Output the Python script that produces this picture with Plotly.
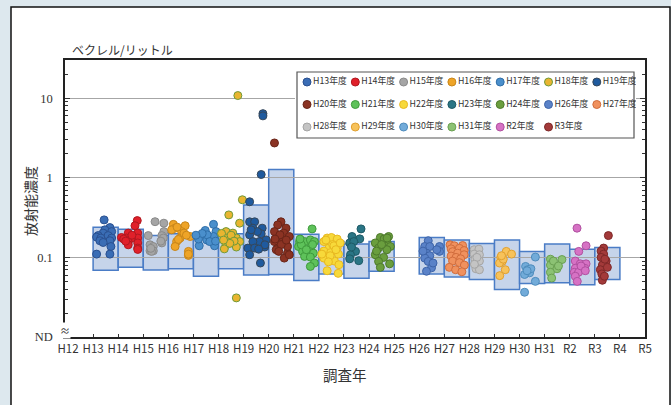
import plotly.graph_objects as go

# ---------------- data ----------------
tick_labels = ["H12", "H13", "H14", "H15", "H16", "H17", "H18", "H19", "H20", "H21", "H22",
               "H23", "H24", "H25", "H26", "H27", "H28", "H29", "H30", "H31", "R2", "R3", "R4", "R5"]

series_years = ["H13", "H14", "H15", "H16", "H17", "H18", "H19", "H20", "H21", "H22", "H23", "H24",
                "H26", "H27", "H28", "H29", "H30", "H31", "R2", "R3"]
series_names = [y + "年度" for y in series_years]

# box (range band) per survey year, Bq/L
box_low = [0.0688, 0.075, 0.0696, 0.0722, 0.0579, 0.0722, 0.0603, 0.0608, 0.0511, 0.062, 0.0546, 0.0668,
           0.062, 0.0569, 0.0526, 0.0395, 0.0469, 0.0479, 0.0452, 0.0526]
box_high = [0.240, 0.226, 0.188, 0.198, 0.180, 0.198, 0.456, 1.27, 0.196, 0.158, 0.147, 0.158,
            0.178, 0.166, 0.150, 0.165, 0.119, 0.147, 0.127, 0.133]

# per-sample position inside the year band (0..1) and concentration (Bq/L)
h13_pos = [0.44, 0.67, 0.47, 0.74, 0.40, 0.20, 0.60, 0.14, 0.74, 0.31, 0.27, 0.67, 0.40, 0.71, 0.14, 0.67]
h13_val = [0.296, 0.237, 0.222, 0.211, 0.202, 0.188, 0.188, 0.18, 0.175, 0.175, 0.162, 0.162, 0.154, 0.137, 0.11, 0.11]
h14_pos = [0.76, 0.67, 0.40, 0.78, 0.13, 0.33, 0.78, 0.53, 0.40, 0.78, 0.40, 0.78, 0.22, 0.55, 0.78, 0.30]
h14_val = [0.29, 0.25, 0.202, 0.202, 0.178, 0.175, 0.175, 0.175, 0.156, 0.152, 0.144, 0.131, 0.17, 0.19, 0.126, 0.16]
h15_pos = [0.47, 0.82, 0.82, 0.20, 0.74, 0.80, 0.27, 0.40, 0.74, 0.27, 0.40, 0.70, 0.33, 0.30]
h15_val = [0.281, 0.269, 0.211, 0.188, 0.188, 0.175, 0.144, 0.137, 0.152, 0.121, 0.121, 0.16, 0.119, 0.13]
h16_pos = [0.20, 0.27, 0.67, 0.53, 0.87, 0.47, 0.33, 0.27, 0.80, 0.80, 0.13, 0.62, 0.72, 0.40, 0.80, 0.35]
h16_val = [0.26, 0.233, 0.25, 0.211, 0.183, 0.175, 0.158, 0.137, 0.119, 0.106, 0.222, 0.202, 0.19, 0.168, 0.11, 0.24]
h17_pos = [0.80, 0.47, 0.20, 0.90, 0.53, 0.80, 0.23, 0.84, 0.20, 0.55, 0.65, 0.35, 0.88, 0.10]
h17_val = [0.26, 0.218, 0.183, 0.211, 0.166, 0.183, 0.14, 0.14, 0.17, 0.192, 0.158, 0.2, 0.16, 0.19]
h18_pos = [0.77, 0.95, 0.71, 0.41, 0.84, 0.30, 0.57, 0.30, 0.71, 0.84, 0.30, 0.71, 0.23, 0.50, 0.62, 0.12, 0.45, 0.20]
h18_val = [10.8, 0.53, 0.031, 0.342, 0.269, 0.211, 0.202, 0.175, 0.175, 0.158, 0.144, 0.135, 0.128, 0.19, 0.16, 0.2, 0.15, 0.165]
h19_pos = [0.77, 0.77, 0.70, 0.24, 0.24, 0.44, 0.74, 0.37, 0.24, 0.70, 0.90, 0.63, 0.37, 0.17, 0.44, 0.84, 0.24, 0.67, 0.55, 0.85, 0.30, 0.60]
h19_val = [6.4, 6.0, 1.1, 0.5, 0.28, 0.28, 0.233, 0.233, 0.192, 0.198, 0.166, 0.158, 0.158, 0.131, 0.131, 0.135, 0.108, 0.085, 0.211, 0.144, 0.222, 0.127]
h20_pos = [0.23, 0.49, 0.36, 0.69, 0.23, 0.60, 0.82, 0.23, 0.56, 0.36, 0.75, 0.62, 0.45, 0.75, 0.30, 0.82, 0.50, 0.25, 0.70, 0.40]
h20_val = [2.74, 0.28, 0.256, 0.233, 0.211, 0.202, 0.183, 0.158, 0.158, 0.131, 0.113, 0.098, 0.192, 0.137, 0.125, 0.108, 0.145, 0.17, 0.165, 0.119]
h21_pos = [0.73, 0.23, 0.43, 0.66, 0.82, 0.19, 0.66, 0.35, 0.78, 0.43, 0.66, 0.82, 0.66, 0.30, 0.50, 0.25, 0.75]
h21_val = [0.228, 0.158, 0.158, 0.166, 0.158, 0.137, 0.131, 0.119, 0.113, 0.103, 0.101, 0.085, 0.077, 0.144, 0.125, 0.17, 0.145]
h22_pos = [0.33, 0.50, 0.73, 0.20, 0.40, 0.73, 0.20, 0.47, 0.78, 0.20, 0.62, 0.80, 0.33, 0.77, 0.55, 0.60, 0.28, 0.85, 0.45, 0.12, 0.68, 0.38]
h22_val = [0.175, 0.178, 0.17, 0.158, 0.131, 0.131, 0.12, 0.115, 0.11, 0.098, 0.09, 0.081, 0.068, 0.063, 0.145, 0.14, 0.165, 0.152, 0.105, 0.11, 0.125, 0.088]
h23_pos = [0.68, 0.32, 0.63, 0.23, 0.39, 0.46, 0.26, 0.23, 0.59, 0.30]
h23_val = [0.228, 0.183, 0.171, 0.152, 0.158, 0.119, 0.108, 0.096, 0.091, 0.135]
h24_pos = [0.45, 0.78, 0.25, 0.71, 0.85, 0.38, 0.25, 0.71, 0.58, 0.38, 0.45, 0.82, 0.60, 0.30, 0.72, 0.50]
h24_val = [0.178, 0.183, 0.152, 0.158, 0.137, 0.131, 0.108, 0.125, 0.1, 0.089, 0.075, 0.083, 0.17, 0.12, 0.175, 0.145]
h26_pos = [0.36, 0.22, 0.42, 0.81, 0.81, 0.29, 0.42, 0.22, 0.36, 0.49, 0.29, 0.70, 0.15, 0.55]
h26_val = [0.162, 0.137, 0.137, 0.137, 0.119, 0.113, 0.105, 0.098, 0.089, 0.074, 0.067, 0.125, 0.12, 0.085]
h27_pos = [0.23, 0.40, 0.73, 0.60, 0.27, 0.79, 0.33, 0.53, 0.79, 0.27, 0.47, 0.65, 0.33, 0.60, 0.80, 0.20, 0.45, 0.70]
h27_val = [0.144, 0.14, 0.141, 0.13, 0.128, 0.122, 0.118, 0.113, 0.108, 0.104, 0.1, 0.096, 0.09, 0.086, 0.08, 0.075, 0.07, 0.066]
h28_pos = [0.19, 0.38, 0.19, 0.40, 0.22, 0.40, 0.26, 0.40, 0.30, 0.20]
h28_val = [0.125, 0.127, 0.11, 0.108, 0.095, 0.09, 0.072, 0.07, 0.1, 0.082]
h29_pos = [0.47, 0.68, 0.25, 0.31, 0.20, 0.43, 0.21, 0.35, 0.28]
h29_val = [0.119, 0.11, 0.1, 0.089, 0.085, 0.07, 0.059, 0.095, 0.105]
h30_pos = [0.63, 0.24, 0.40, 0.20, 0.32, 0.63, 0.20, 0.45, 0.30]
h30_val = [0.101, 0.077, 0.064, 0.061, 0.07, 0.05, 0.0365, 0.072, 0.068]
h31_pos = [0.23, 0.69, 0.30, 0.23, 0.49, 0.23, 0.28, 0.35, 0.55]
h31_val = [0.095, 0.094, 0.085, 0.08, 0.072, 0.065, 0.055, 0.09, 0.078]
r2_pos = [0.29, 0.65, 0.36, 0.22, 0.42, 0.65, 0.22, 0.60, 0.18, 0.35, 0.22, 0.30, 0.45, 0.62]
r2_val = [0.233, 0.14, 0.119, 0.09, 0.083, 0.083, 0.073, 0.073, 0.065, 0.065, 0.058, 0.05, 0.078, 0.068]
r3_pos = [0.54, 0.35, 0.25, 0.35, 0.25, 0.45, 0.30, 0.22, 0.30, 0.40, 0.50, 0.28, 0.38]
r3_val = [0.188, 0.131, 0.12, 0.11, 0.1, 0.09, 0.08, 0.07, 0.0516, 0.095, 0.075, 0.062, 0.058]

series_pos = [h13_pos, h14_pos, h15_pos, h16_pos, h17_pos, h18_pos, h19_pos, h20_pos, h21_pos, h22_pos,
              h23_pos, h24_pos, h26_pos, h27_pos, h28_pos, h29_pos, h30_pos, h31_pos, r2_pos, r3_pos]
series_val = [h13_val, h14_val, h15_val, h16_val, h17_val, h18_val, h19_val, h20_val, h21_val, h22_val,
              h23_val, h24_val, h26_val, h27_val, h28_val, h29_val, h30_val, h31_val, r2_val, r3_val]

# ---------------- style ----------------
fill_colors = ["#3a6db5", "#e0202a", "#a5a5a5", "#eea427", "#4a8fcc", "#e9b530", "#1f5a9e", "#8b3323",
               "#5ec25a", "#f7d93a", "#2a7585", "#6a9e3e", "#5a82c8", "#f0915e", "#c4c4c4", "#f7c25a",
               "#72abd9", "#8cc274", "#d672c4", "#a33a3a"]
line_colors = ["#2a5090", "#b01820", "#8a8a8a", "#c8861a", "#2f6ea8", "#6f9a3a", "#35475a", "#6a2518",
               "#3f9a3c", "#e8b820", "#1e5a66", "#4e7a2c", "#3e64a8", "#d06c3c", "#a5a5a5", "#e0a030",
               "#4f8cbc", "#6aa052", "#b050a0", "#7e2828"]

TXT = "#333333"
fig = go.Figure()

# range boxes
for yr, lo, hi in zip(series_years, box_low, box_high):
    i = tick_labels.index(yr)
    fig.add_shape(type="rect", xref="x", yref="y", x0=i, x1=i + 1, y0=lo, y1=hi,
                  layer="below", fillcolor="#c6d4ea", line=dict(color="#4a7cc6", width=1.5))

# sample dots
for name, yr, pos, val, fc, lc in zip(series_names, series_years, series_pos, series_val,
                                      fill_colors, line_colors):
    i = tick_labels.index(yr)
    fig.add_trace(go.Scatter(
        x=[i + p for p in pos], y=val, mode="markers", name=name, showlegend=False,
        marker=dict(size=8, color=fc, line=dict(color=lc, width=1)),
        hovertemplate=name + ": %{y}<extra></extra>"))

# legend (drawn in an auxiliary pixel-unit subplot so it can be laid out 7 per row)
LX0, LX1, LY0, LY1 = 295, 636, 70, 140
fig.add_shape(type="rect", xref="x2", yref="y2", x0=297, x1=634, y0=72, y1=138,
              layer="below", fillcolor="white", line=dict(color="#555555", width=1.2))
leg_x = [307 + 48.3 * (k % 7) for k in range(len(series_names))]
leg_y = [82 + 22.5 * (k // 7) for k in range(len(series_names))]
fig.add_trace(go.Scatter(
    x=leg_x, y=leg_y, xaxis="x2", yaxis="y2", mode="markers+text",
    text=series_names, textposition="middle right",
    textfont=dict(size=8.8, color=TXT, family="Noto Sans CJK JP"),
    marker=dict(size=8, color=fill_colors, line=dict(color=line_colors, width=1)),
    showlegend=False, hoverinfo="skip"))

minor_vals = [m * 10 ** k for k in range(-2, 2) for m in range(2, 10) if m * 10 ** k < 30]

fig.update_layout(
    width=671, height=405,
    margin=dict(l=65, r=26, t=60, b=68, autoexpand=False),
    paper_bgcolor="#dde8ee", plot_bgcolor="white",
    showlegend=False,
    font=dict(family="Noto Sans CJK JP", color=TXT),
    xaxis=dict(
        range=[-0.12, 23], tickmode="array", tickvals=list(range(len(tick_labels))),
        ticktext=tick_labels, ticks="inside", ticklen=3, tickcolor="#333",
        tickfont=dict(family="Liberation Sans Narrow, Noto Sans CJK JP", size=11.5, color=TXT),
        showgrid=False, zeroline=False, showline=True, linecolor="#222", linewidth=1.5,
        mirror=True),
    yaxis=dict(
        type="log", range=[-2, 1.48], tickmode="array", tickvals=[0.01, 0.1, 1, 10],
        ticktext=["ND", "0.1", "1", "10"], ticks="inside", ticklen=5, tickcolor="#333",
        tickfont=dict(family="Liberation Serif", size=12.5, color=TXT), ticklabelstandoff=8,
        minor=dict(tickmode="array", tickvals=minor_vals, ticks="inside", ticklen=3,
                   tickcolor="#333", showgrid=False),
        showgrid=True, gridcolor="#a6a6a6", gridwidth=1, zeroline=False,
        showline=True, linecolor="#222", linewidth=1.5, mirror="allticks"),
    xaxis2=dict(domain=[(LX0 - 65) / 580, (LX1 - 65) / 580], range=[LX0, LX1], visible=False,
                anchor="y2", fixedrange=True),
    yaxis2=dict(domain=[(337 - LY1) / 277, (337 - LY0) / 277], range=[LY1, LY0], visible=False,
                anchor="x2", fixedrange=True),
)

# outer white panel with black frame
fig.add_shape(type="rect", xref="paper", yref="paper",
              x0=(11 - 65) / 580, x1=(670 - 65) / 580, y0=(337 - 420) / 277, y1=(337 - 7) / 277,
              layer="below", fillcolor="white", line=dict(color="#111", width=1.5))

fig.add_annotation(text="放射能濃度", xref="paper", yref="paper", x=(30 - 65) / 580,
                   y=(337 - 201) / 277, xanchor="center", yanchor="middle", textangle=-90,
                   showarrow=False, font=dict(size=14, color=TXT))
fig.add_annotation(text="ベクレル/リットル", xref="paper", yref="paper", x=(70 - 65) / 580,
                   y=(337 - 50) / 277, xanchor="left", yanchor="middle", showarrow=False,
                   font=dict(size=12, color=TXT))
fig.add_annotation(text="調査年", xref="paper", yref="paper", x=(345 - 65) / 580,
                   y=(337 - 374) / 277, xanchor="center", yanchor="middle", showarrow=False,
                   font=dict(size=14.5, color=TXT))
fig.add_annotation(text="≈", xref="paper", yref="paper", x=0, y=(337 - 330) / 277,
                   xanchor="center", yanchor="middle", showarrow=False, bgcolor="white",
                   borderpad=0, font=dict(size=10, color=TXT))

fig.write_html("out.html", config={"displayModeBar": False},
               post_script="document.body.style.margin='0';document.body.style.background='#dde8ee';")
